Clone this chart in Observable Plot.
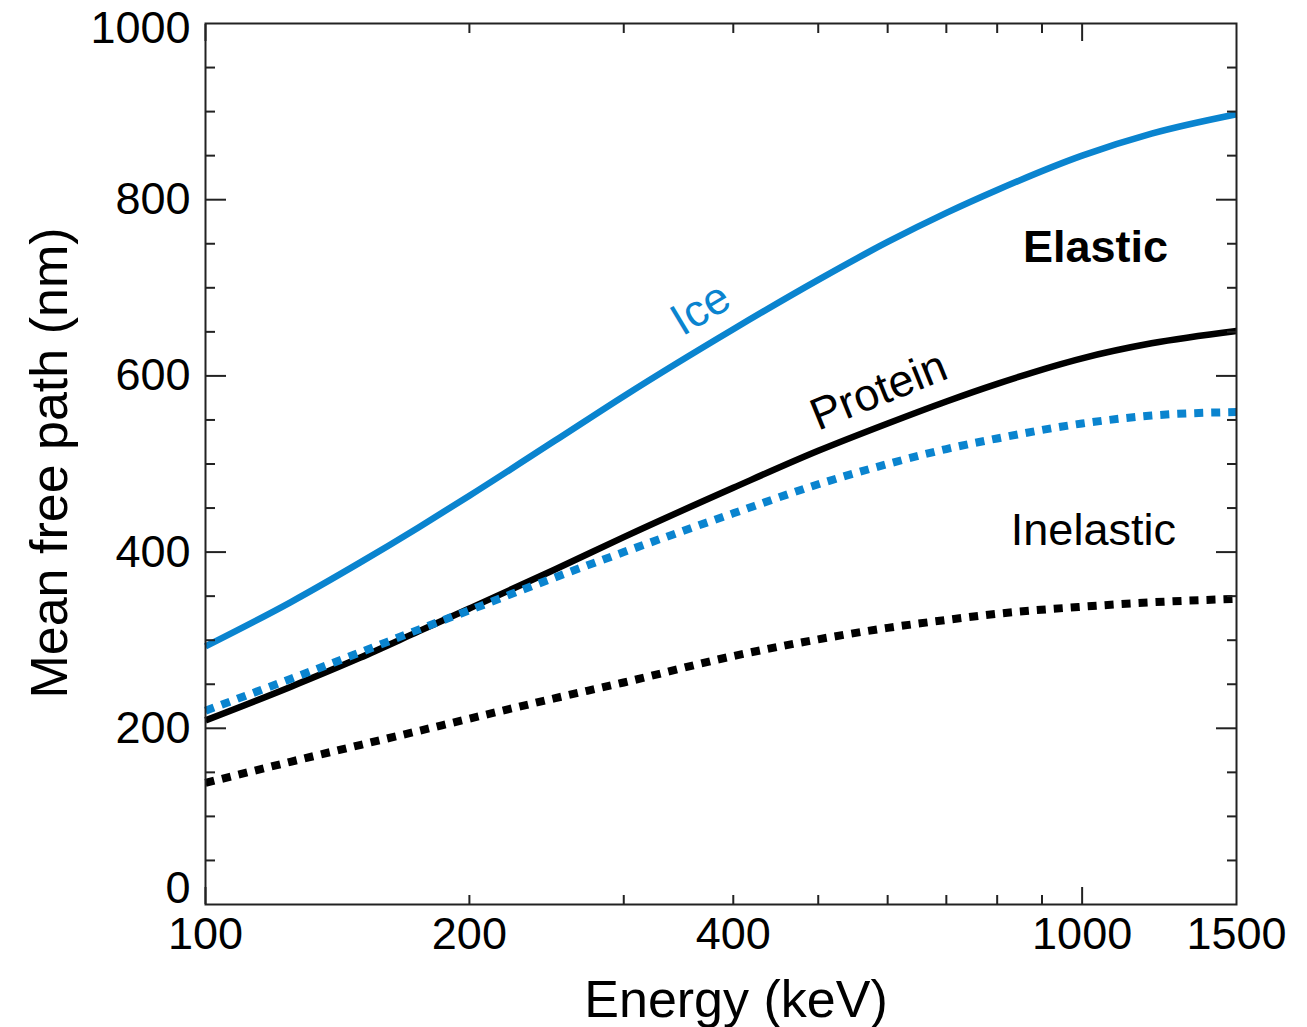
<!DOCTYPE html>
<html>
<head>
<meta charset="utf-8">
<script src="https://cdn.jsdelivr.net/npm/d3@7"></script>
<script src="https://cdn.jsdelivr.net/npm/@observablehq/plot@0.6"></script>
<style>
  html, body { margin: 0; padding: 0; background: #fff; }
  #chart svg { display: block; }
</style>
</head>
<body>
<div id="chart"></div>
<script>
// Electron energy (keV) at which each mean free path was sampled
const energy = [100, 125, 150, 175, 200, 250, 300, 400, 500, 600, 700, 800, 1000, 1200, 1500];

// Mean free path (nm)
const iceElastic       = [293, 343, 388, 428, 464, 526, 577, 653, 709, 752, 785, 811, 850, 875, 897];
const proteinElastic   = [209, 247, 280, 310, 336, 380, 417, 473, 515, 546, 571, 591, 620, 637, 651];
const iceInelastic     = [220, 256, 286, 312, 334, 371, 400, 444, 477, 500, 517, 529, 546, 555, 559];
const proteinInelastic = [138, 162, 181, 197, 211, 234, 252, 282, 301, 314, 323, 330, 338, 343, 347];

// Axis tick values
const xTickLabels = [100, 200, 400, 1000, 1500];
const xMajorTicks = [100, 1000];
const xMinorTicks = [200, 300, 400, 500, 600, 700, 800, 900];
const yTickLabels = [0, 200, 400, 600, 800, 1000];
const yMajorTicks = [200, 400, 600, 800];
const yMinorTicks = [50, 100, 150, 250, 300, 350, 450, 500, 550, 650, 700, 750, 850, 900, 950];

// In-plot annotations
const curveLabels = [
  { text: "Ice",     energy: 367, mfp: 676, color: "ice",     rotate: -31 },
  { text: "Protein", energy: 586, mfp: 583, color: "protein", rotate: -22 }
];
const elasticLabel   = [{ text: "Elastic",   energy: 1036, mfp: 746 }];
const inelasticLabel = [{ text: "Inelastic", energy: 1030, mfp: 424 }];

const BLUE = "#0a84cf";
const INK = "#000";
const FRAME = "#222";
const FONT = "'Liberation Sans', Arial, Helvetica, sans-serif";
const colors = { ice: BLUE, protein: INK };

const toRows = (values) => energy.map((e, i) => ({ energy: e, mfp: values[i] }));

const solid = { x: "energy", y: "mfp", strokeWidth: 6.5, strokeLinecap: "butt", curve: "monotone-x" };
const dotted = { x: "energy", y: "mfp", strokeWidth: 8, strokeDasharray: "9,8", strokeLinecap: "butt", curve: "monotone-x" };

const tickStyle = { stroke: FRAME, strokeWidth: 2, fill: "none", label: null };
const labelStyle = { tickSize: 0, fontSize: 45, fill: INK, label: null, tickFormat: d => `${d}` };

const chart = Plot.plot({
  width: 1307,
  height: 1027,
  marginLeft: 205,
  marginRight: 71,
  marginTop: 23,
  marginBottom: 123,
  x: { type: "log", domain: [100, 1500], axis: null },
  y: { domain: [0, 1000], axis: null },
  style: { fontFamily: FONT, fontSize: "45px", color: INK, background: "#fff" },
  marks: [
    // curves
    Plot.line(toRows(proteinInelastic), { ...dotted, stroke: INK }),
    Plot.line(toRows(proteinElastic), { ...solid, stroke: INK }),
    Plot.line(toRows(iceInelastic), { ...dotted, stroke: BLUE }),
    Plot.line(toRows(iceElastic), { ...solid, stroke: BLUE }),

    // inward ticks on all four sides
    Plot.axisX(xMajorTicks, { ...tickStyle, anchor: "bottom", tickSize: -17 }),
    Plot.axisX(xMinorTicks, { ...tickStyle, anchor: "bottom", tickSize: -9 }),
    Plot.axisX(xMajorTicks, { ...tickStyle, anchor: "top", tickSize: -17 }),
    Plot.axisX(xMinorTicks, { ...tickStyle, anchor: "top", tickSize: -9 }),
    Plot.axisY(yMajorTicks, { ...tickStyle, anchor: "left", tickSize: -21 }),
    Plot.axisY(yMinorTicks, { ...tickStyle, anchor: "left", tickSize: -10 }),
    Plot.axisY(yMajorTicks, { ...tickStyle, anchor: "right", tickSize: -21 }),
    Plot.axisY(yMinorTicks, { ...tickStyle, anchor: "right", tickSize: -10 }),

    // tick labels
    Plot.axisX(xTickLabels, { ...labelStyle, anchor: "bottom", tickPadding: 13 }),
    Plot.axisY(yTickLabels.slice(1, -1), { ...labelStyle, anchor: "left", tickPadding: 15 }),
    Plot.axisY(yTickLabels.slice(0, 1), { ...labelStyle, anchor: "left", tickPadding: 15, dy: -16 }),
    Plot.axisY(yTickLabels.slice(-1), { ...labelStyle, anchor: "left", tickPadding: 15, dy: 5 }),

    Plot.frame({ stroke: FRAME, strokeWidth: 2 }),

    // axis titles
    Plot.text(["Energy (keV)"], {
      frameAnchor: "bottom", textAnchor: "middle", lineAnchor: "middle",
      dx: 15, dy: 96, fontSize: 52, fill: INK
    }),
    Plot.text(["Mean free path (nm)"], {
      frameAnchor: "left", textAnchor: "middle", lineAnchor: "middle",
      rotate: -90, dx: -155, dy: -1, fontSize: 52, fill: INK
    }),

    // annotations
    Plot.text(curveLabels, {
      x: "energy", y: "mfp", text: "text", rotate: "rotate",
      fill: d => colors[d.color], fontSize: 45
    }),
    Plot.text(elasticLabel, { x: "energy", y: "mfp", text: "text", fontWeight: "bold", fill: INK, fontSize: 45 }),
    Plot.text(inelasticLabel, { x: "energy", y: "mfp", text: "text", fill: INK, fontSize: 45 })
  ]
});

document.getElementById("chart").appendChild(chart);
</script>
</body>
</html>
